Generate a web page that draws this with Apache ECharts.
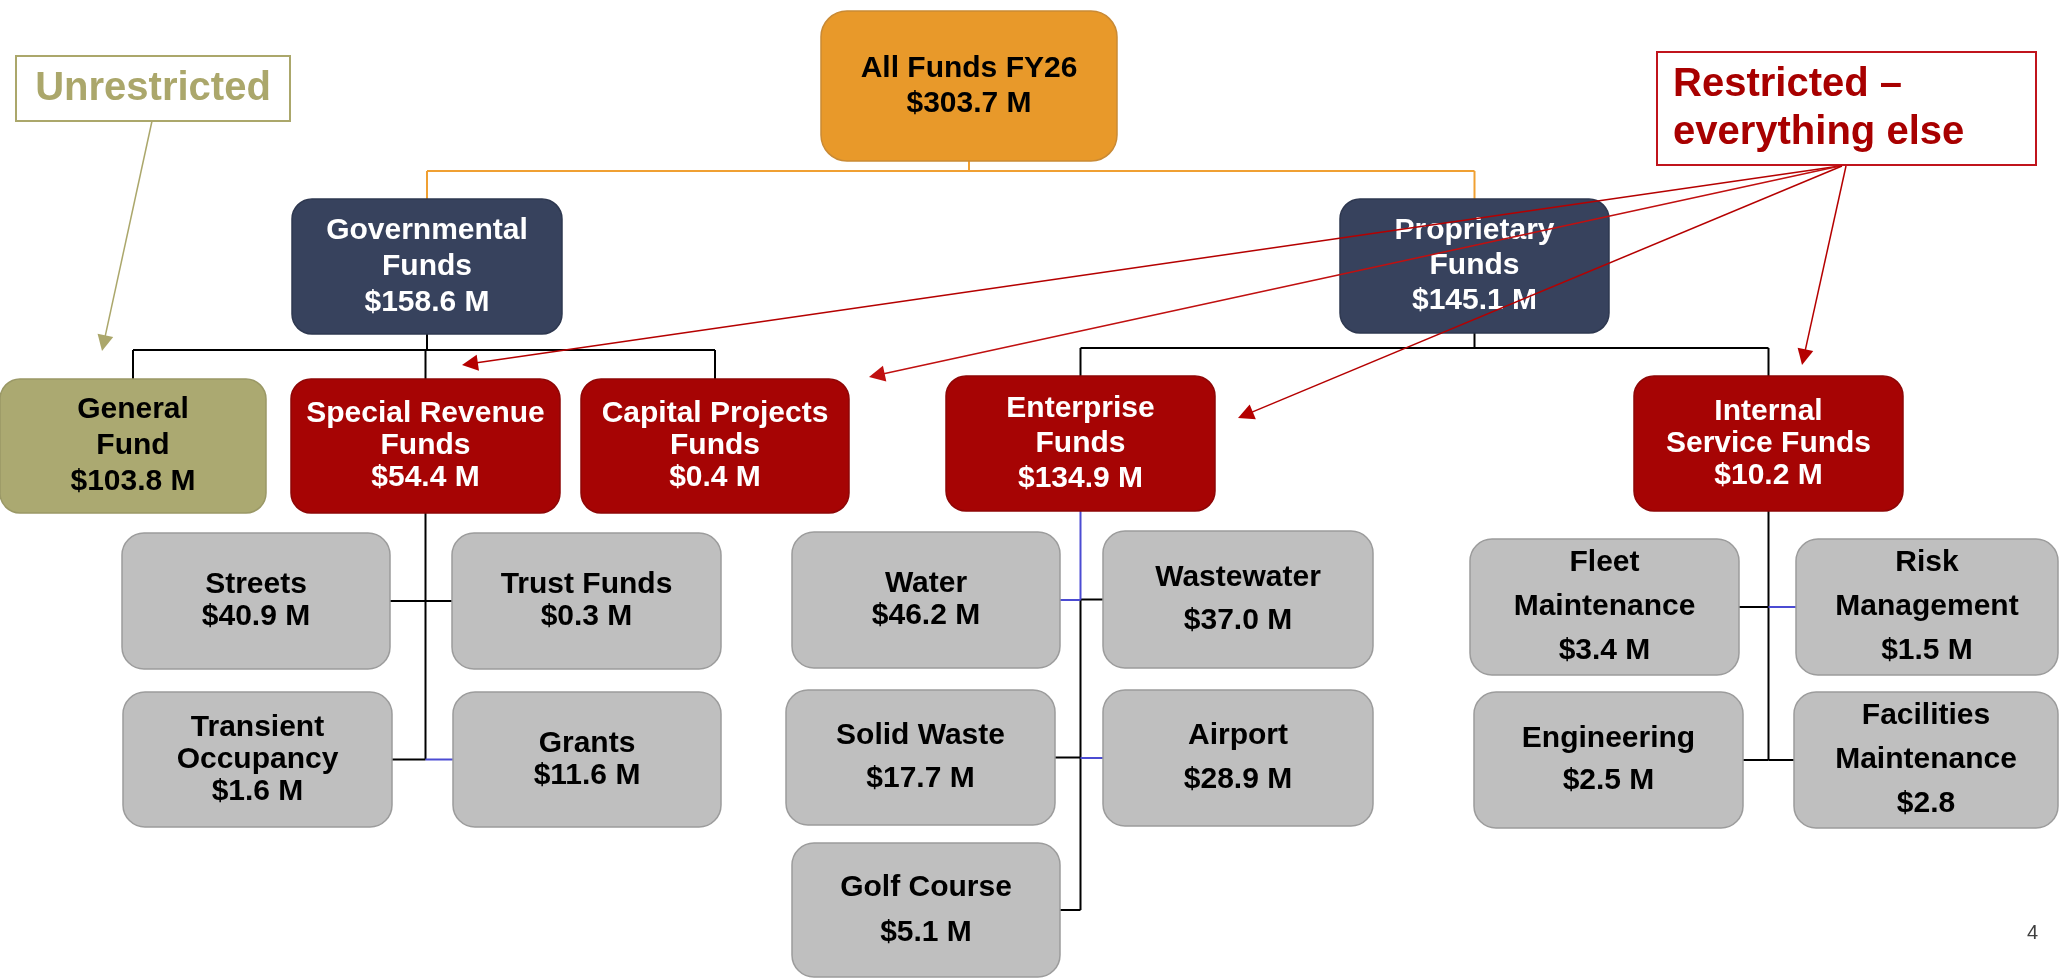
<!DOCTYPE html>
<html>
<head>
<meta charset="utf-8">
<title>All Funds FY26</title>
<script src="https://cdn.jsdelivr.net/npm/echarts@6/dist/echarts.min.js"></script>
<style>
  html, body { margin: 0; padding: 0; background: #fff; }
  #container { width: 2059px; height: 979px; }
</style>
</head>
<body>
<div id="container"></div>
<script>
// fund names and amounts ($ millions), in chart order
var fundNames = [
    'All Funds FY26',
    'Governmental\nFunds', 'Proprietary\nFunds',
    'General\nFund', 'Special Revenue\nFunds', 'Capital Projects\nFunds',
    'Enterprise\nFunds', 'Internal\nService Funds',
    'Streets', 'Trust Funds', 'Transient\nOccupancy', 'Grants',
    'Water', 'Wastewater', 'Solid Waste', 'Airport', 'Golf Course',
    'Fleet\nMaintenance', 'Risk\nManagement', 'Engineering', 'Facilities\nMaintenance'
];
var fundAmounts = [
    303.7,
    158.6, 145.1,
    103.8, 54.4, 0.4,
    134.9, 10.2,
    40.9, 0.3, 1.6, 11.6,
    46.2, 37.0, 17.7, 28.9, 5.1,
    3.4, 1.5, 2.5, 2.8
];
// the slide leaves the "M" off Facilities Maintenance
var amountUnits = [
    ' M',
    ' M', ' M',
    ' M', ' M', ' M',
    ' M', ' M',
    ' M', ' M', ' M', ' M',
    ' M', ' M', ' M', ' M', ' M',
    ' M', ' M', ' M', ''
];
var noteTexts = ['Unrestricted', 'Restricted \u2013\neverything else'];

// ---- layout (pixels on a 2059 x 979 page) ----
var styles = {
    top:   {fill: '#E8992A', stroke: '#C98A35', text: '#000', r: 26},
    navy:  {fill: '#37425D', stroke: '#2E3850', text: '#fff', r: 20},
    red:   {fill: '#A60404', stroke: '#8E0606', text: '#fff', r: 20},
    olive: {fill: '#ABA971', stroke: '#9A9866', text: '#000', r: 20},
    gray:  {fill: '#BFBFBF', stroke: '#9C9C9C', text: '#000', r: 22}
};
// x, y, w, h, style, line height
var boxLayout = [
    [821, 11, 296, 150, 'top', 35],
    [292, 199, 270, 135, 'navy', 36], [1340, 199, 269, 134, 'navy', 35],
    [0, 379, 266, 134, 'olive', 36], [291, 379, 269, 134, 'red', 32], [581, 379, 268, 134, 'red', 32],
    [946, 376, 269, 135, 'red', 35], [1634, 376, 269, 135, 'red', 32],
    [122, 533, 268, 136, 'gray', 32], [452, 533, 269, 136, 'gray', 32],
    [123, 692, 269, 135, 'gray', 32], [453, 692, 268, 135, 'gray', 32],
    [792, 532, 268, 136, 'gray', 32], [1103, 531, 270, 137, 'gray', 43],
    [786, 690, 269, 135, 'gray', 43], [1103, 690, 270, 136, 'gray', 44],
    [792, 843, 268, 134, 'gray', 45],
    [1470, 539, 269, 136, 'gray', 44], [1796, 539, 262, 136, 'gray', 44],
    [1474, 692, 269, 136, 'gray', 42], [1794, 692, 264, 136, 'gray', 44]
];
// parent -> children joined by a horizontal bus
var busLinks = [
    {parent: 0, children: [1, 2], busY: 171, orange: true},
    {parent: 1, children: [3, 4, 5], busY: 350},
    {parent: 2, children: [6, 7], busY: 348}
];
// parent -> children hung on a vertical spine
var spineLinks = [
    {parent: 4, children: [8, 9, 10, 11]},
    {parent: 6, children: [12, 13, 14, 15, 16], blueTop: true},
    {parent: 7, children: [17, 18, 19, 20]}
];
// stubs that come out blue on the slide
var blueStubs = [11, 12, 15, 18];

var notes = [
    {x: 16, y: 56, w: 274, h: 65, color: '#ABA76B', align: 'center', lineHeight: 48},
    {x: 1657, y: 52, w: 379, h: 113, color: '#A80000', border: '#C0141C', align: 'left', pad: 16, lineHeight: 48}
];
var arrows = [
    {from: [152, 121], to: [102, 351], color: '#ABA76B'},
    {from: [1840, 166], to: [462, 365], color: '#B50000'},
    {from: [1840, 166], to: [869, 377], color: '#C01010'},
    {from: [1842, 166], to: [1238, 418], color: '#B50000'},
    {from: [1846, 166], to: [1802, 365], color: '#B50000'}
];

function boxLabel(i) {
    return fundNames[i] + '\n$' + fundAmounts[i].toFixed(1) + amountUnits[i];
}
function cx(i) { return boxLayout[i][0] + boxLayout[i][2] / 2; }
function cy(i) { return boxLayout[i][1] + boxLayout[i][3] / 2; }
function bottom(i) { return boxLayout[i][1] + boxLayout[i][3]; }

function buildConnectors() {
    var black = [], orange = [], blue = [];
    busLinks.forEach(function (b) {
        var list = b.orange ? orange : black;
        var px = cx(b.parent);
        list.push({coords: [[px, bottom(b.parent)], [px, b.busY]]});
        var xs = b.children.map(cx);
        list.push({coords: [[Math.min.apply(null, xs), b.busY], [Math.max.apply(null, xs), b.busY]]});
        b.children.forEach(function (c) {
            list.push({coords: [[cx(c), b.busY], [cx(c), boxLayout[c][1]]]});
        });
    });
    spineLinks.forEach(function (s) {
        var sx = cx(s.parent);
        var ys = s.children.map(cy);
        var top = bottom(s.parent);
        var low = Math.max.apply(null, ys);
        var firstY = Math.min.apply(null, ys);
        if (s.blueTop) {
            blue.push({coords: [[sx, top], [sx, firstY]]});
            black.push({coords: [[sx, firstY], [sx, low]]});
        } else {
            black.push({coords: [[sx, top], [sx, low]]});
        }
        s.children.forEach(function (c) {
            var b = boxLayout[c];
            var edge = cx(c) < sx ? b[0] + b[2] : b[0];
            var list = blueStubs.indexOf(c) >= 0 ? blue : black;
            list.push({coords: [[sx, cy(c)], [edge, cy(c)]]});
        });
    });
    return {black: black, orange: orange, blue: blue};
}

function init() {
    var chart = echarts.init(document.getElementById('container'));
    var conn = buildConnectors();
    // pull each line back so the arrow head's tip lands on the target
    var arrowLines = arrows.map(function (a) {
        var dx = a.to[0] - a.from[0], dy = a.to[1] - a.from[1];
        var len = Math.sqrt(dx * dx + dy * dy);
        var k = (len - 8) / len;
        return {coords: [a.from, [a.from[0] + dx * k, a.from[1] + dy * k]], lineStyle: {color: a.color}};
    });

    function lineSeries(data, color, width) {
        return {
            type: 'lines', coordinateSystem: 'cartesian2d', polyline: true,
            silent: true, z: 1, data: data,
            lineStyle: {color: color, width: width, opacity: 1}
        };
    }

    var option = {
        animation: false,
        backgroundColor: '#fff',
        title: {
            text: '4', right: 16, top: 918,
            textStyle: {fontSize: 20, fontWeight: 'normal', color: '#404040', fontFamily: 'Liberation Sans'}
        },
        grid: {left: 0, right: 0, top: 0, bottom: 0},
        xAxis: {type: 'value', min: 0, max: 2059, show: false},
        yAxis: {type: 'value', min: 0, max: 979, inverse: true, show: false},
        series: [
            lineSeries(conn.orange, '#F0A032', 2),
            lineSeries(conn.black, '#000', 2),
            lineSeries(conn.blue, '#4B4BD2', 2),
            {
                type: 'custom', coordinateSystem: 'cartesian2d', z: 2, silent: true,
                data: boxLayout.map(function (b, i) { return [b[0], b[1], b[2], b[3], i]; }),
                renderItem: function (params, api) {
                    var i = api.value(4);
                    var b = boxLayout[i];
                    var st = styles[b[4]];
                    var p0 = api.coord([b[0], b[1]]);
                    var p1 = api.coord([b[0] + b[2], b[1] + b[3]]);
                    return {
                        type: 'group',
                        children: [{
                            type: 'rect',
                            shape: {x: p0[0], y: p0[1], width: p1[0] - p0[0], height: p1[1] - p0[1], r: st.r},
                            style: {fill: st.fill, stroke: st.stroke, lineWidth: 1.5}
                        }, {
                            type: 'text',
                            style: {
                                text: boxLabel(i),
                                x: (p0[0] + p1[0]) / 2, y: (p0[1] + p1[1]) / 2,
                                align: 'center', verticalAlign: 'middle',
                                fontFamily: 'Liberation Sans', fontWeight: 'bold', fontSize: 30,
                                lineHeight: b[5], fill: st.text
                            }
                        }]
                    };
                }
            },
            {
                type: 'custom', coordinateSystem: 'cartesian2d', z: 2, silent: true,
                data: notes.map(function (n, i) { return [n.x, n.y, i]; }),
                renderItem: function (params, api) {
                    var n = notes[api.value(2)];
                    var p0 = api.coord([n.x, n.y]);
                    var p1 = api.coord([n.x + n.w, n.y + n.h]);
                    var tx = n.align === 'left' ? p0[0] + n.pad : (p0[0] + p1[0]) / 2;
                    return {
                        type: 'group',
                        children: [{
                            type: 'rect',
                            shape: {x: p0[0], y: p0[1], width: p1[0] - p0[0], height: p1[1] - p0[1]},
                            style: {fill: '#fff', stroke: n.border || n.color, lineWidth: 2}
                        }, {
                            type: 'text',
                            style: {
                                text: noteTexts[api.value(2)],
                                x: tx, y: (p0[1] + p1[1]) / 2,
                                align: n.align, verticalAlign: 'middle',
                                fontFamily: 'Liberation Sans', fontWeight: 'bold', fontSize: 40,
                                lineHeight: n.lineHeight, fill: n.color
                            }
                        }]
                    };
                }
            },
            {
                type: 'lines', coordinateSystem: 'cartesian2d', silent: true, z: 3,
                symbol: ['none', 'triangle'], symbolSize: [14, 16],
                lineStyle: {width: 1.5, opacity: 1},
                data: arrowLines
            }
        ]
    };
    chart.setOption(option);
}
init();
</script>
</body>
</html>
